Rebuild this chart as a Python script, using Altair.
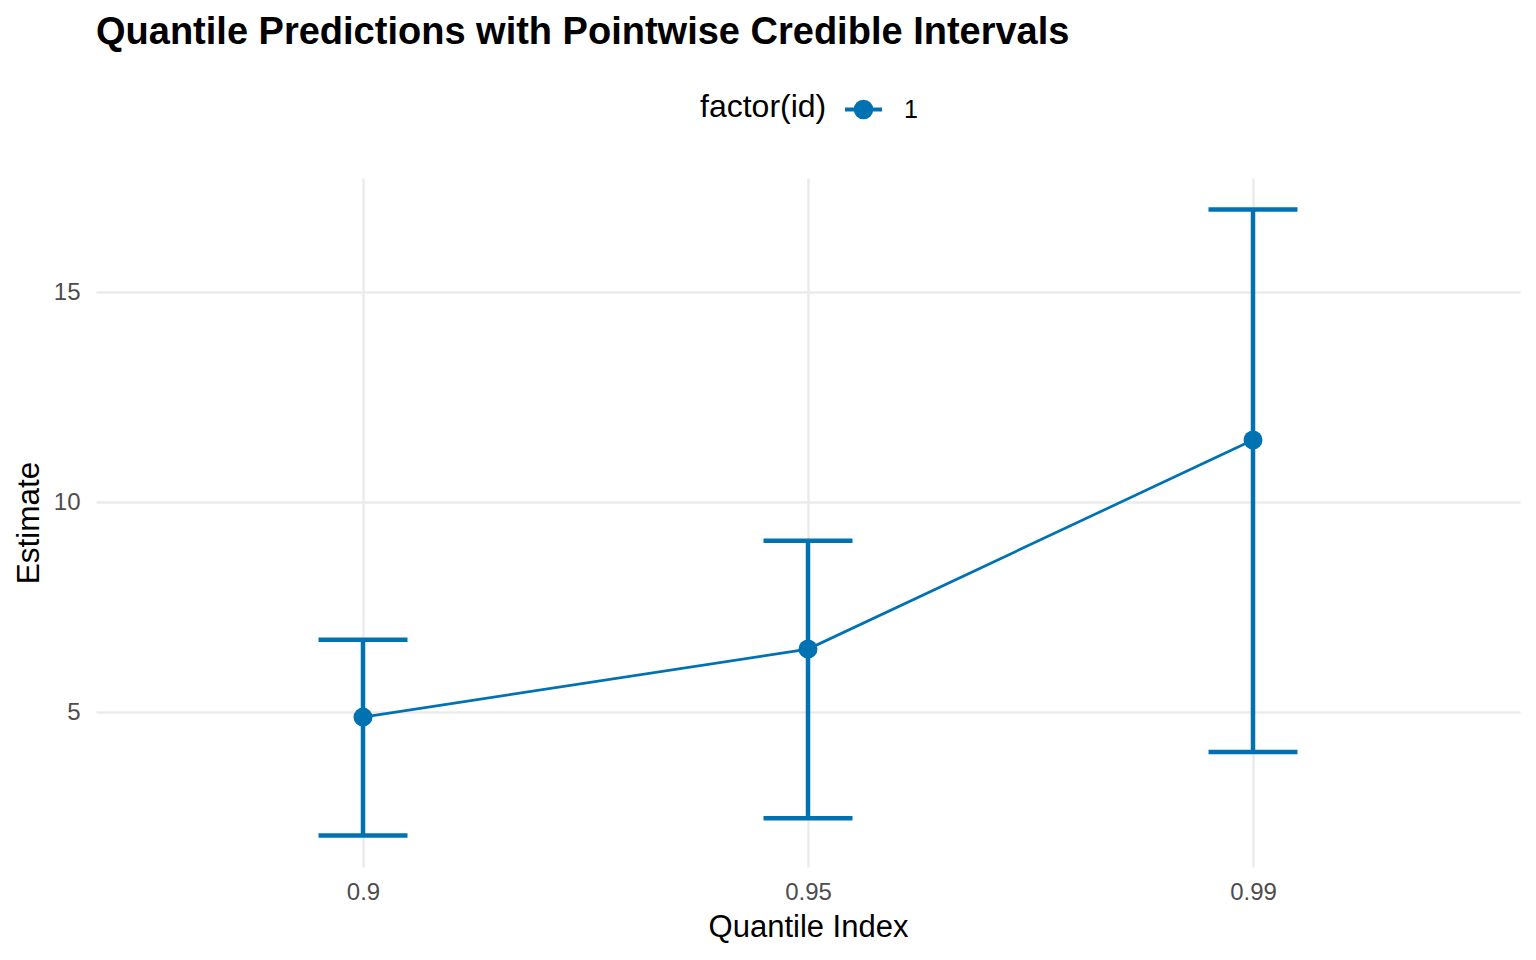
import altair as alt
import pandas as pd

quantiles = ["0.9", "0.95", "0.99"]
estimates = [4.88, 6.50, 11.48]
lower = [2.06, 2.47, 4.05]
upper = [6.72, 9.08, 16.97]
ids = ["1", "1", "1"]

df = pd.DataFrame({"q": quantiles, "est": estimates, "lo": lower, "hi": upper, "id": ids})

BLUE = "#0072B2"
FONT = "Liberation Sans"

xscale = alt.Scale(type="point", padding=0.6, domain=quantiles)
yscale = alt.Scale(domain=[1.31, 17.72], nice=False, zero=False)

xax = alt.Axis(title="Quantile Index", labelAngle=0, labelAlign="center", grid=True,
               gridColor="#EBEBEB", gridWidth=2.5,
               ticks=False, tickSize=0, domain=False, labelFontSize=24, labelColor="#4D4D4D",
               labelFont=FONT, labelPadding=25, titleFontSize=31, titleFont=FONT, titleColor="black",
               titleFontWeight="normal", titlePadding=8)
yax = alt.Axis(title="Estimate", values=[5, 10, 15], grid=True, gridColor="#EBEBEB", gridWidth=2.5,
               ticks=False, tickSize=0, domain=False, labelFontSize=24, labelColor="#4D4D4D",
               labelFont=FONT, labelPadding=16, titleFontSize=31.5, titleFont=FONT, titleColor="black",
               titleFontWeight="normal", titlePadding=8)

base = alt.Chart(df)

x = alt.X("q:O", scale=xscale, axis=xax, sort=quantiles)
y = alt.Y("est:Q", scale=yscale, axis=yax)

sym = "M-1,0L1,0M-0.42,0A0.42,0.42,0,1,1,0.42,0A0.42,0.42,0,1,1,-0.42,0Z"

rules = base.mark_rule(color=BLUE, strokeWidth=4.5).encode(
    x=alt.X("q:O", scale=xscale, sort=quantiles), y=alt.Y("lo:Q", scale=yscale), y2="hi:Q")
cap_lo = base.mark_tick(color=BLUE, thickness=4.5, size=89, orient="horizontal", opacity=1).encode(
    x=alt.X("q:O", scale=xscale, sort=quantiles), y=alt.Y("lo:Q", scale=yscale))
cap_hi = base.mark_tick(color=BLUE, thickness=4.5, size=89, orient="horizontal", opacity=1).encode(
    x=alt.X("q:O", scale=xscale, sort=quantiles), y=alt.Y("hi:Q", scale=yscale))
line = base.mark_line(color=BLUE, strokeWidth=2.7).encode(x=x, y=y)
points = base.mark_point(filled=True, size=361, opacity=1).encode(
    x=x, y=y,
    color=alt.Color("id:N", scale=alt.Scale(domain=["1"], range=[BLUE]),
                    legend=alt.Legend(title="factor(id)", orient="none", legendX=604, legendY=-89,
                                      direction="horizontal", titleOrient="left",
                                      titleFontSize=32, titleFont=FONT, titleColor="black",
                                      titleFontWeight="normal", titlePadding=16,
                                      labelFontSize=25, labelFont=FONT, labelColor="black",
                                      labelOffset=20, symbolType=sym, symbolSize=1369,
                                      symbolStrokeWidth=4, symbolStrokeColor=BLUE,
                                      symbolFillColor=BLUE)))

chart = alt.layer(rules, cap_lo, cap_hi, line, points).properties(
    width=1424, height=689,
    title=alt.TitleParams(text="Quantile Predictions with Pointwise Credible Intervals",
                          anchor="start", frame="group", fontSize=38, font=FONT,
                          fontWeight="bold", color="black", offset=37),
    autosize=alt.AutoSizeParams(type="none"),
    padding={"left": 88, "top": 170, "right": 8, "bottom": 85},
).configure(background="white").configure_view(stroke=None)

chart.save("out.html", embed_options={"renderer": "svg", "actions": False})
